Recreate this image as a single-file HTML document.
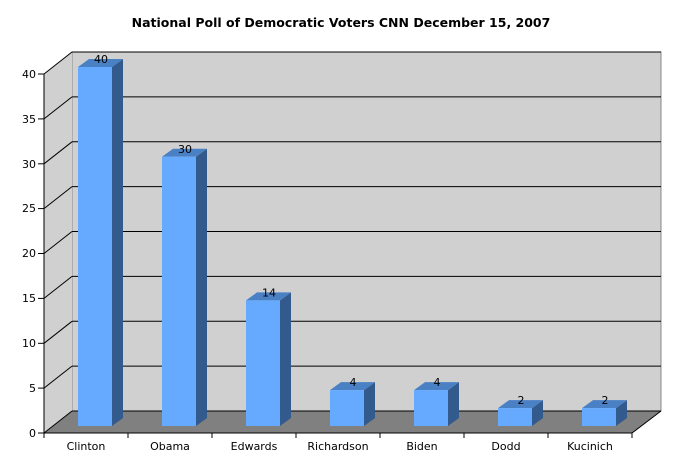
<!DOCTYPE html><html><head><style>body{margin:0;background:#fff}svg{display:block}text{font-family:"DejaVu Sans","Liberation Sans",sans-serif;font-size:11px;fill:#000}</style></head><body>
<svg width="683" height="467" viewBox="0 0 683 467">
<text x="341" y="27" text-anchor="middle" style="font-weight:bold;font-size:12.5px">National Poll of Democratic Voters CNN December 15, 2007</text>
<polygon points="72,52 661,52 661,411 72,411" fill="#d0d0d0" stroke="#888" stroke-width="1"/>
<polygon points="44,74 72,52 72,411 44,433" fill="#d0d0d0"/>
<polygon points="44,433 72,411 661,411 632,433" fill="#808080"/>
<g stroke="#000" stroke-width="1">
<line x1="72" y1="411" x2="661" y2="411"/>
<line x1="72" y1="366.1" x2="661" y2="366.1"/><line x1="44" y1="388.1" x2="72" y2="366.1"/>
<line x1="72" y1="321.3" x2="661" y2="321.3"/><line x1="44" y1="343.3" x2="72" y2="321.3"/>
<line x1="72" y1="276.4" x2="661" y2="276.4"/><line x1="44" y1="298.4" x2="72" y2="276.4"/>
<line x1="72" y1="231.5" x2="661" y2="231.5"/><line x1="44" y1="253.5" x2="72" y2="231.5"/>
<line x1="72" y1="186.6" x2="661" y2="186.6"/><line x1="44" y1="208.6" x2="72" y2="186.6"/>
<line x1="72" y1="141.8" x2="661" y2="141.8"/><line x1="44" y1="163.8" x2="72" y2="141.8"/>
<line x1="72" y1="96.9" x2="661" y2="96.9"/><line x1="44" y1="118.9" x2="72" y2="96.9"/>
<line x1="72" y1="52" x2="661" y2="52"/><line x1="44" y1="74" x2="72" y2="52"/>
<line x1="44" y1="433" x2="72" y2="411"/>
<line x1="632" y1="433" x2="661" y2="411"/>
<line x1="44" y1="74" x2="44" y2="433"/>
<line x1="44" y1="433" x2="632" y2="433"/>
<line x1="38" y1="433" x2="44" y2="433"/><line x1="38" y1="388.1" x2="44" y2="388.1"/><line x1="38" y1="343.3" x2="44" y2="343.3"/><line x1="38" y1="298.4" x2="44" y2="298.4"/><line x1="38" y1="253.5" x2="44" y2="253.5"/><line x1="38" y1="208.6" x2="44" y2="208.6"/><line x1="38" y1="163.8" x2="44" y2="163.8"/><line x1="38" y1="118.9" x2="44" y2="118.9"/><line x1="38" y1="74" x2="44" y2="74"/>
<line x1="44" y1="433" x2="44" y2="438"/><line x1="128" y1="433" x2="128" y2="438"/><line x1="212" y1="433" x2="212" y2="438"/><line x1="296" y1="433" x2="296" y2="438"/><line x1="380" y1="433" x2="380" y2="438"/><line x1="464" y1="433" x2="464" y2="438"/><line x1="548" y1="433" x2="548" y2="438"/><line x1="632" y1="433" x2="632" y2="438"/>
</g>
<g text-anchor="end"><text x="36" y="437">0</text><text x="36" y="392">5</text><text x="36" y="347">10</text><text x="36" y="302">15</text><text x="36" y="257">20</text><text x="36" y="212">25</text><text x="36" y="168">30</text><text x="36" y="123">35</text><text x="36" y="78">40</text></g>
<g text-anchor="middle"><text x="86" y="450">Clinton</text><text x="170" y="450">Obama</text><text x="254" y="450">Edwards</text><text x="338" y="450">Richardson</text><text x="422" y="450">Biden</text><text x="506" y="450">Dodd</text><text x="590" y="450">Kucinich</text></g>
<g>
<polygon points="112,67 123,59 123,418 112,426" fill="#335a8c"/><polygon points="78,67 89,59 123,59 112,67" fill="#4a80c4"/><rect x="78" y="67" width="34" height="359" fill="#66aaff"/>
<polygon points="196,156.8 207,148.8 207,418 196,426" fill="#335a8c"/><polygon points="162,156.8 173,148.8 207,148.8 196,156.8" fill="#4a80c4"/><rect x="162" y="156.8" width="34" height="269.2" fill="#66aaff"/>
<polygon points="280,300.4 291,292.4 291,418 280,426" fill="#335a8c"/><polygon points="246,300.4 257,292.4 291,292.4 280,300.4" fill="#4a80c4"/><rect x="246" y="300.4" width="34" height="125.6" fill="#66aaff"/>
<polygon points="364,390.1 375,382.1 375,418 364,426" fill="#335a8c"/><polygon points="330,390.1 341,382.1 375,382.1 364,390.1" fill="#4a80c4"/><rect x="330" y="390.1" width="34" height="35.9" fill="#66aaff"/>
<polygon points="448,390.1 459,382.1 459,418 448,426" fill="#335a8c"/><polygon points="414,390.1 425,382.1 459,382.1 448,390.1" fill="#4a80c4"/><rect x="414" y="390.1" width="34" height="35.9" fill="#66aaff"/>
<polygon points="532,408.1 543,400.1 543,418 532,426" fill="#335a8c"/><polygon points="498,408.1 509,400.1 543,400.1 532,408.1" fill="#4a80c4"/><rect x="498" y="408.1" width="34" height="17.9" fill="#66aaff"/>
<polygon points="616,408.1 627,400.1 627,418 616,426" fill="#335a8c"/><polygon points="582,408.1 593,400.1 627,400.1 616,408.1" fill="#4a80c4"/><rect x="582" y="408.1" width="34" height="17.9" fill="#66aaff"/>
</g>
<g text-anchor="middle">
<text x="101" y="63">40</text><text x="185" y="152.8">30</text><text x="269" y="296.4">14</text><text x="353" y="386.1">4</text><text x="437" y="386.1">4</text><text x="521" y="404.1">2</text><text x="605" y="404.1">2</text>
</g>
</svg></body></html>
